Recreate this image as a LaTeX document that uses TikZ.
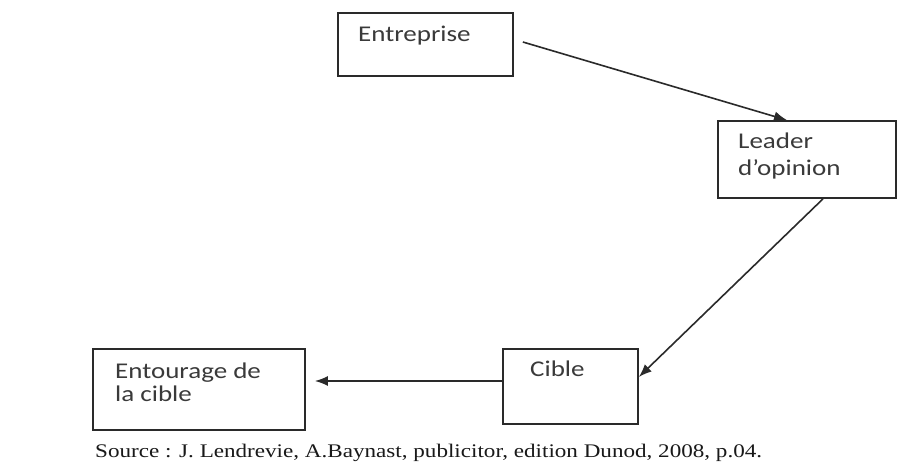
\documentclass[tikz,border=0pt]{standalone}
\usepackage{fontspec}
\usetikzlibrary{arrows.meta}
\newfontfamily\boxfont{Carlito}[FakeStretch=1.2]
\newfontfamily\srcfont{Liberation Serif}[FakeStretch=1.2]
\definecolor{ink}{HTML}{2A2A2A}
\definecolor{txt}{HTML}{3A3A3A}
\begin{document}
\begin{tikzpicture}[x=1pt,y=-1pt,
  stage/.style={draw=ink,line width=1.7pt,fill=white,inner sep=0pt,minimum width=#1},
  label/.style={anchor=base west,inner sep=0pt,font=\boxfont\fontsize{22.5}{27}\selectfont,text=txt},
  flow/.style={draw=ink,line width=1.6pt,-{Latex[length=13pt,width=10pt]}}]
  \useasboundingbox (0,0) rectangle (898,465);
  \fill[white] (0,0) rectangle (898,465);
  % the four stages of the flow
  \node[stage=175pt,minimum height=63pt] (ent) at (425.5,44.5) {};
  \node[stage=178pt,minimum height=77pt] (lead) at (807,159.5) {};
  \node[stage=135pt,minimum height=75pt] (cib) at (570.5,386.5) {};
  \node[stage=212pt,minimum height=81pt] (ento) at (199,389.5) {};
  % their texts
  \node[label] (tent) at (358,42) {Entreprise};
  \node[label] (tlead1) at (738,149) {Leader};
  \node[label] (tlead2) at (738,176) {d’opinion};
  \node[label] (tcib) at (530,377) {Cible};
  \node[label] (tento1) at (115,379) {Entourage de};
  \node[label] (tento2) at (115,402) {la cible};
  % connectors
  \draw[flow] ([xshift=9pt,yshift=2.5pt]ent.east) -- ([xshift=-20pt]lead.north);
  \draw[flow] ([xshift=16pt]lead.south) -- ([yshift=9.5pt]cib.east);
  \draw[flow] ([yshift=5.5pt]cib.west) -- ([xshift=9pt,yshift=8.5pt]ento.east);
  % source line
  \node[anchor=base west,inner sep=0pt,font=\srcfont\fontsize{19.25}{22}\selectfont,text=black!90] (src) at (95,457)
    {Source : J. Lendrevie, A.Baynast, publicitor, edition Dunod, 2008, p.04.};
\end{tikzpicture}
\end{document}
